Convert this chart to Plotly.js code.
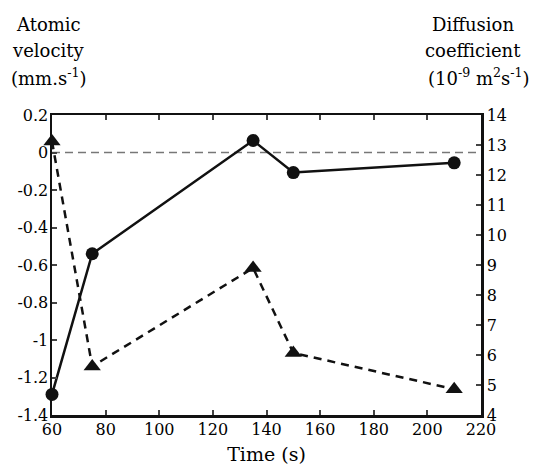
<!DOCTYPE html>
<html>
<head>
<meta charset="utf-8">
<script src="https://cdn.plot.ly/plotly-3.0.1.min.js"></script>
<style>html,body{margin:0;padding:0;background:#fff}</style>
</head>
<body>
<div id="chart" style="width:538px;height:466px"></div>
<script>
const timeS = [60, 75, 135, 150, 210];
const velocity = [-1.29, -0.54, 0.064, -0.107, -0.055];
const diffusion = [13.12, 5.62, 8.9, 6.07, 4.86];

const xTicks = [60, 80, 100, 120, 140, 160, 180, 200, 220];
const yTicks = [0.2, 0, -0.2, -0.4, -0.6, -0.8, -1, -1.2, -1.4];
const yTickText = ['0.2', '0', '-0.2', '-0.4', '-0.6', '-0.8', '-1', '-1.2', '-1.4'];
const y2Ticks = [4, 5, 6, 7, 8, 9, 10, 11, 12, 13, 14];

const leftTitleLines = ['Atomic', 'velocity', '(mm.s<sup>-1</sup>)'];
const rightTitleLines = ['Diffusion', 'coefficient', '(10<sup>-9</sup> m<sup>2</sup>s<sup>-1</sup>)'];

const FAM = 'DejaVu Serif';
const f = (size) => ({family: FAM, size: size, color: '#000'});

// plot-area pixel geometry -> paper coordinates for text placement
const M = {l: 52, r: 57, t: 115, b: 51};
const W = 538, H = 466;
const PW = W - M.l - M.r, PH = H - M.t - M.b;
const px = (p) => (p - M.l) / PW;
const py = (p) => (H - M.b - p) / PH;

const traces = [
  {
    x: timeS, y: velocity, type: 'scatter', mode: 'lines+markers',
    line: {color: '#111', width: 2.5},
    marker: {symbol: 'circle', size: 13, color: '#111'},
    yaxis: 'y', cliponaxis: false
  },
  {
    x: timeS, y: diffusion, type: 'scatter', mode: 'lines+markers',
    line: {color: '#111', width: 2.5, dash: '8px,6px'},
    marker: {symbol: 'triangle-up', size: 15, color: '#111'},
    yaxis: 'y2', cliponaxis: false
  }
];

const lineY = [24, 51, 77];
const annotations = [];
leftTitleLines.forEach((t, i) => annotations.push({
  xref: 'paper', yref: 'paper', x: px(48), y: py(lineY[i]),
  xanchor: 'center', yanchor: 'middle', showarrow: false, text: t, font: f(18)
}));
rightTitleLines.forEach((t, i) => annotations.push({
  xref: 'paper', yref: 'paper', x: px(i === 2 ? 479 : 473), y: py(lineY[i]),
  xanchor: 'center', yanchor: 'middle', showarrow: false, text: t, font: f(18)
}));

const layout = {
  width: W, height: H,
  margin: M,
  paper_bgcolor: '#fff', plot_bgcolor: '#fff',
  showlegend: false,
  font: f(16),
  xaxis: {
    range: [60, 220], tickvals: xTicks, ticks: 'inside', ticklen: 5, tickwidth: 2,
    showline: true, linewidth: 2.5, linecolor: '#111', mirror: 'ticks',
    showgrid: false, zeroline: false, automargin: false,
    tickfont: f(16), ticklabelstandoff: -2,
    title: {text: 'Time (s)', font: f(19), standoff: 10}
  },
  yaxis: {
    range: [-1.4, 0.2], tickvals: yTicks, ticktext: yTickText,
    ticks: 'inside', ticklen: 5, tickwidth: 2,
    showline: true, linewidth: 2.5, linecolor: '#111',
    showgrid: false, zeroline: false, automargin: false,
    tickfont: f(16), ticklabelstandoff: -2
  },
  yaxis2: {
    range: [4, 14], tickvals: y2Ticks, overlaying: 'y', side: 'right',
    ticks: 'inside', ticklen: 5, tickwidth: 2,
    showline: true, linewidth: 2.5, linecolor: '#111',
    showgrid: false, zeroline: false, automargin: false,
    tickfont: f(16)
  },
  shapes: [{
    type: 'line', xref: 'paper', yref: 'y', x0: 0, x1: 1, y0: 0, y1: 0,
    line: {color: '#777', width: 1.5, dash: '8px,5px'}, layer: 'below'
  }],
  annotations: annotations
};

Plotly.newPlot('chart', traces, layout, {displayModeBar: false, staticPlot: true});
</script>
</body>
</html>
